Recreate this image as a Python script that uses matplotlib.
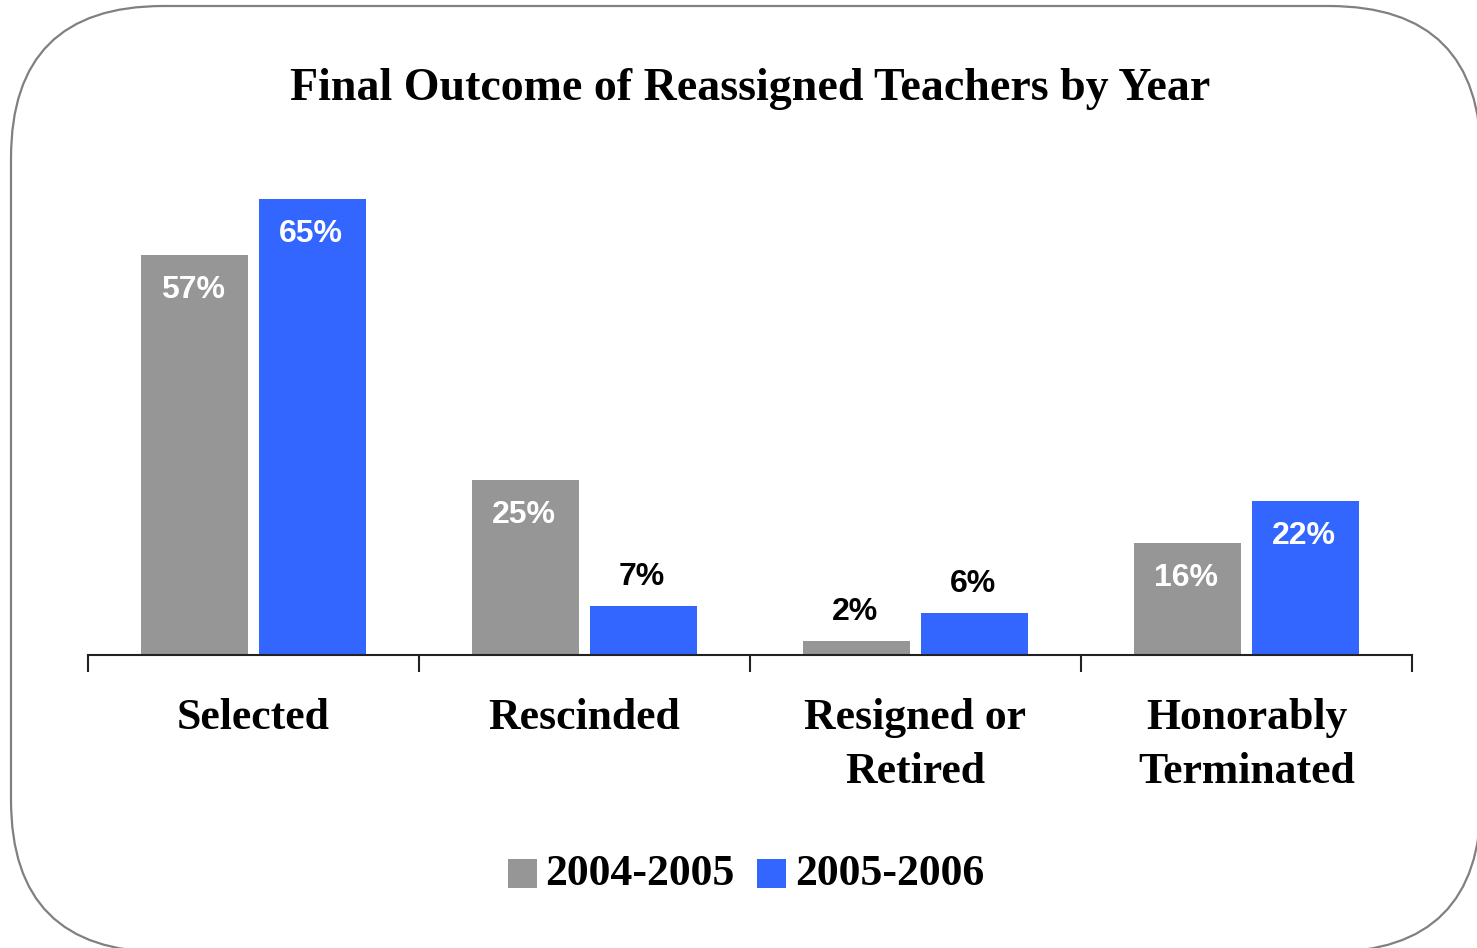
import numpy as np
import matplotlib.pyplot as plt
from matplotlib.patches import FancyBboxPatch, Rectangle

# Data
categories = ["Selected", "Rescinded", "Resigned or\nRetired", "Honorably\nTerminated"]
years = ["2004-2005", "2005-2006"]
vals_0405 = [57, 25, 2, 16]
vals_0506 = [65, 7, 6, 22]

grey = "#969696"
blue = "#3366FF"
W, H = 1477, 948
serif = "Liberation Serif"

fig = plt.figure(figsize=(W / 100, H / 100), dpi=100)

# Rounded frame drawn on a full-figure pixel axes
bg = fig.add_axes([0, 0, 1, 1])
bg.set_xlim(0, W)
bg.set_ylim(H, 0)
bg.axis("off")
bg.add_patch(FancyBboxPatch((11, 6), 1470, 946,
                            boxstyle="round,pad=0,rounding_size=152",
                            fc="white", ec="#808080", lw=1.6))

# Title
bg.text(750, 89, "Final Outcome of Reassigned Teachers by Year",
        ha="center", va="center", fontsize=33, fontweight="bold",
        family=serif)

# Bar axes: baseline at y=655, 65% at y=199
x0, x1 = 88, 1412
yb, yt = 655, 199
ax = fig.add_axes([x0 / W, (H - yb) / H, (x1 - x0) / W, (yb - yt) / H])
ax.patch.set_alpha(0)
ax.set_xlim(-0.5, 3.5)
ax.set_ylim(0, 65)

x = np.arange(len(categories))
bw = 0.323
off = 0.178
b1 = ax.bar(x - off, vals_0405, bw, color=grey)
b2 = ax.bar(x + off, vals_0506, bw, color=blue)

for bars, vals in ((b1, vals_0405), (b2, vals_0506)):
    for b, v in zip(bars, vals):
        cx = b.get_x() + b.get_width() / 2 - 0.005
        if v >= 10:
            ax.text(cx, v - 2.9, f"{v}%", ha="center", va="top", color="white",
                    fontsize=23, fontweight="bold", family="Liberation Sans")
        else:
            ax.text(cx, v + 2.0, f"{v}%", ha="center", va="bottom", color="black",
                    fontsize=23, fontweight="bold", family="Liberation Sans")

for s in ["top", "right", "left"]:
    ax.spines[s].set_visible(False)
ax.spines["bottom"].set_color("#222222")
ax.spines["bottom"].set_linewidth(1.5)
ax.set_yticks([])
ax.set_xticks(np.arange(-0.5, 4.0, 1.0))
ax.set_xticklabels([])
ax.tick_params(axis="x", length=12, width=1.5, color="#222222", direction="out")

for i, c in enumerate(categories):
    ax.text(i, -6.2, c, ha="center", va="top", fontsize=31.5, fontweight="bold",
            family=serif, linespacing=1.42)

# Legend
leg_y = 873
for (lx, tx, col, lab) in ((508, 545, grey, years[0]), (757, 795, blue, years[1])):
    bg.add_patch(Rectangle((lx, leg_y - 14.5), 29, 29, fc=col, ec="none"))
    bg.text(tx, leg_y + 1, lab, ha="left", va="center", fontsize=31.5,
            fontweight="bold", family=serif)

fig.savefig("out.png", dpi=100)
